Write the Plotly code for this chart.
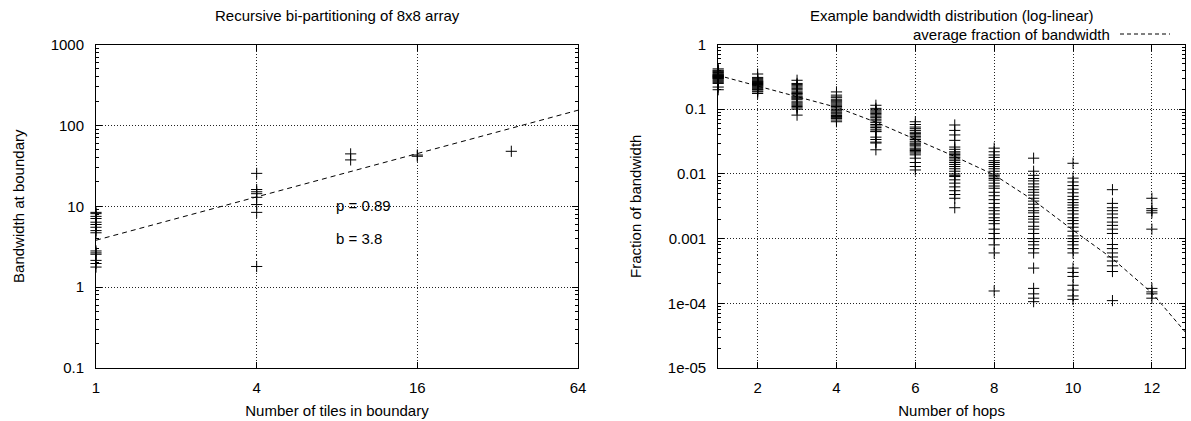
import plotly.graph_objects as go

# ---------------- data: left panel (Rent's rule) ----------------
tiles_1 = [1] * 15
bw_1 = [8.4, 8.1, 7.5, 7.05, 6.35, 5.95, 5.5, 5.0, 4.7, 2.8, 2.65, 2.55, 2.14, 1.96, 1.77]
tiles_4 = [4] * 8
bw_4 = [25.5, 16.1, 15.1, 14.3, 12.9, 10.5, 8.4, 1.8]
tiles_9 = [9, 9]
bw_9 = [44.4, 37.4]
tiles_16 = [16, 16]
bw_16 = [41.5, 43.0]
tiles_36 = [36]
bw_36 = [47.8]
rent_b = 3.8
rent_p = 0.89
fit_tiles = [1, 2, 4, 8, 16, 32, 64]

# ---------------- data: right panel (hops) ----------------
hop_fracs = {
    1: [0.42, 0.40, 0.39, 0.38, 0.37, 0.36, 0.35, 0.34, 0.34, 0.33, 0.33, 0.32, 0.32, 0.31,
        0.31, 0.30, 0.30, 0.29, 0.28, 0.27, 0.26, 0.25, 0.22, 0.20],
    2: [0.35, 0.31, 0.30, 0.29, 0.28, 0.27, 0.27, 0.26, 0.26, 0.25, 0.25, 0.24, 0.24, 0.23,
        0.23, 0.22, 0.22, 0.21, 0.20, 0.20, 0.19, 0.185, 0.175],
    3: [0.28, 0.25, 0.24, 0.23, 0.22, 0.21, 0.20, 0.19, 0.18, 0.175, 0.17, 0.16, 0.155, 0.15,
        0.145, 0.14, 0.13, 0.125, 0.12, 0.115, 0.11, 0.105, 0.10, 0.081],
    4: [0.185, 0.165, 0.155, 0.15, 0.14, 0.135, 0.13, 0.125, 0.12, 0.115, 0.11, 0.105, 0.10,
        0.097, 0.094, 0.09, 0.087, 0.084, 0.08, 0.077, 0.074, 0.072, 0.068, 0.064],
    5: [0.115, 0.103, 0.098, 0.094, 0.09, 0.086, 0.082, 0.078, 0.074, 0.07, 0.066, 0.062,
        0.058, 0.055, 0.052, 0.049, 0.046, 0.045, 0.037, 0.034, 0.031, 0.03, 0.0236],
    6: [0.064, 0.058, 0.053, 0.050, 0.047, 0.044, 0.042, 0.040, 0.038, 0.036, 0.034, 0.032,
        0.030, 0.029, 0.028, 0.027, 0.025, 0.024, 0.023, 0.022, 0.021, 0.0197, 0.0175,
        0.015, 0.013, 0.0115],
    7: [0.057, 0.047, 0.040, 0.033, 0.026, 0.024, 0.022, 0.021, 0.020, 0.019, 0.018, 0.017,
        0.016, 0.015, 0.014, 0.013, 0.012, 0.011, 0.010, 0.0095, 0.0091, 0.0081, 0.0072,
        0.0063, 0.0055, 0.0048, 0.0042, 0.003],
    8: [0.025, 0.022, 0.0196, 0.018, 0.016, 0.015, 0.014, 0.013, 0.012, 0.011, 0.010, 0.0095,
        0.009, 0.0085, 0.008, 0.0072, 0.0065, 0.006, 0.0052, 0.0046, 0.004, 0.0035, 0.003,
        0.0027, 0.0024, 0.0021, 0.0019, 0.0017, 0.0014, 0.0012, 0.001, 0.0008, 0.0006,
        0.000155],
    9: [0.0175, 0.011, 0.0095, 0.0085, 0.0078, 0.007, 0.0063, 0.0057, 0.0052, 0.0047, 0.0042,
        0.0038, 0.0034, 0.003, 0.0027, 0.0025, 0.0022, 0.002, 0.0018, 0.00155, 0.0014,
        0.0012, 0.001, 0.0009, 0.0008, 0.0007, 0.0006, 0.00035, 0.00017, 0.00014, 0.00012,
        0.000106],
    10: [0.0146, 0.0086, 0.0075, 0.0066, 0.0058, 0.0051, 0.0045, 0.004, 0.0036, 0.0033, 0.003,
         0.0027, 0.0024, 0.0021, 0.0019, 0.0017, 0.0015, 0.0013, 0.0011, 0.001, 0.0009,
         0.0008, 0.0007, 0.0006, 0.00035, 0.0003, 0.00026, 0.00019, 0.00016, 0.00013,
         0.000115],
    11: [0.0057, 0.0035, 0.003, 0.0027, 0.0024, 0.0021, 0.0018, 0.0016, 0.0014, 0.0012,
         0.00081, 0.0007, 0.0006, 0.00052, 0.00045, 0.00038, 0.00031, 0.00011],
    12: [0.0042, 0.0029, 0.0027, 0.0025, 0.0014, 0.00017, 0.00015, 0.00014, 0.00012],
}
avg_hops = [1, 2, 3, 4, 5, 6, 7, 8, 9, 10, 11, 12, 13]
avg_frac = [0.333, 0.229, 0.155, 0.107, 0.063, 0.0347, 0.0186, 0.00966, 0.00389,
            0.00135, 0.00049, 0.000145, 0.000028]

left_yticks = [0.1, 1, 10, 100, 1000]
left_yticktext = ["0.1", "1", "10", "100", "1000"]
left_xticks = [1, 4, 16, 64]
right_yticks = [1, 0.1, 0.01, 0.001, 0.0001, 0.00001]
right_yticktext = ["1", "0.1", "0.01", "0.001", "1e-04", "1e-05"]
right_xticks = [2, 4, 6, 8, 10, 12]

FONT = "Liberation Sans, Arial, Helvetica, sans-serif"
FS = 15
W, H = 1191, 421

fig = go.Figure()

marker = dict(symbol="cross-thin", size=8, line=dict(color="black", width=1), color="black")

left_x = tiles_1 + tiles_4 + tiles_9 + tiles_16 + tiles_36
left_y = bw_1 + bw_4 + bw_9 + bw_16 + bw_36
fig.add_trace(go.Scatter(x=left_x, y=left_y, mode="markers", marker=marker, cliponaxis=False,
                         xaxis="x", yaxis="y", showlegend=False))
fig.add_trace(go.Scatter(x=fit_tiles, y=[rent_b * t ** rent_p for t in fit_tiles],
                         mode="lines", line=dict(color="black", width=1, dash="5px,4px"),
                         xaxis="x", yaxis="y", showlegend=False))

hx, hy = [], []
for h, vals in hop_fracs.items():
    hx += [h] * len(vals)
    hy += vals
fig.add_trace(go.Scatter(x=hx, y=hy, mode="markers", marker=marker, cliponaxis=False,
                         xaxis="x2", yaxis="y2", showlegend=False))
fig.add_trace(go.Scatter(x=avg_hops, y=avg_frac, mode="lines",
                         line=dict(color="black", width=1, dash="4px,3px"),
                         xaxis="x2", yaxis="y2", showlegend=False,
                         name="average fraction of bandwidth"))

ydom = [1 - 368 / H, 1 - 44.5 / H]
common = dict(showline=True, linecolor="black", linewidth=1, mirror="ticks",
              ticks="inside", ticklen=6, tickcolor="black", automargin=False,
              showgrid=True, gridcolor="#222", griddash="1px,2px", gridwidth=1,
              zeroline=False, tickfont=dict(family=FONT, size=FS, color="black"),
              title_font=dict(family=FONT, size=FS, color="black"))

fig.update_layout(
    width=W, height=H, margin=dict(l=0, r=0, t=0, b=0, autoexpand=False),
    paper_bgcolor="white", plot_bgcolor="white",
    font=dict(family=FONT, size=FS, color="black"),
    xaxis=dict(common, type="log", domain=[96 / W, 578 / W], range=[0, 1.80618],
               tickvals=left_xticks, ticktext=[str(v) for v in left_xticks],
               ticklabelstandoff=6,
               title=dict(text="Number of tiles in boundary", standoff=10), anchor="y"),
    yaxis=dict(common, type="log", domain=ydom, range=[-1, 3],
               tickvals=left_yticks, ticktext=left_yticktext, ticklabelstandoff=8,
               minor=dict(ticks="inside", ticklen=3, tickcolor="black", dtick="D1", showgrid=False),
               title=dict(text="Bandwidth at boundary", standoff=22), anchor="x"),
    xaxis2=dict(common, type="linear", domain=[718.2 / W, 1185 / W], range=[1, 12.84],
                tickvals=right_xticks, ticklabelstandoff=6,
                title=dict(text="Number of hops", standoff=10), anchor="y2"),
    yaxis2=dict(common, type="log", domain=ydom, range=[-5, 0],
                tickvals=right_yticks, ticktext=right_yticktext, ticklabelstandoff=8,
                minor=dict(ticks="inside", ticklen=3, tickcolor="black", dtick="D1", showgrid=False),
                title=dict(text="Fraction of bandwidth", standoff=22), anchor="x2"),
    annotations=[
        dict(text="Recursive bi-partitioning of 8x8 array", x=337 / W, y=1 - 15 / H,
             xanchor="center", yanchor="middle",
             xref="paper", yref="paper", showarrow=False, font=dict(family=FONT, size=FS)),
        dict(text="Example bandwidth distribution (log-linear)", x=951 / W, y=1 - 15 / H,
             xanchor="center", yanchor="middle",
             xref="paper", yref="paper", showarrow=False, font=dict(family=FONT, size=FS)),
        dict(text=f"p = {rent_p}", x=0.892, y=1.009, xref="x", yref="y", xanchor="left",
             yanchor="middle", showarrow=False, font=dict(family=FONT, size=FS)),
        dict(text=f"b = {rent_b}", x=0.892, y=0.601, xref="x", yref="y", xanchor="left",
             yanchor="middle", showarrow=False, font=dict(family=FONT, size=FS)),
        dict(text="average fraction of bandwidth", x=1112 / W, y=1 - 34 / H, xref="paper",
             yref="paper", xanchor="right", yanchor="middle", showarrow=False,
             font=dict(family=FONT, size=FS)),
    ],
    shapes=[
        dict(type="line", xref="paper", yref="paper", x0=1120 / W, x1=1170 / W,
             y0=1 - 34 / H, y1=1 - 34 / H, line=dict(color="black", width=1, dash="4px,3px")),
    ],
)

fig.write_html("out.html")
